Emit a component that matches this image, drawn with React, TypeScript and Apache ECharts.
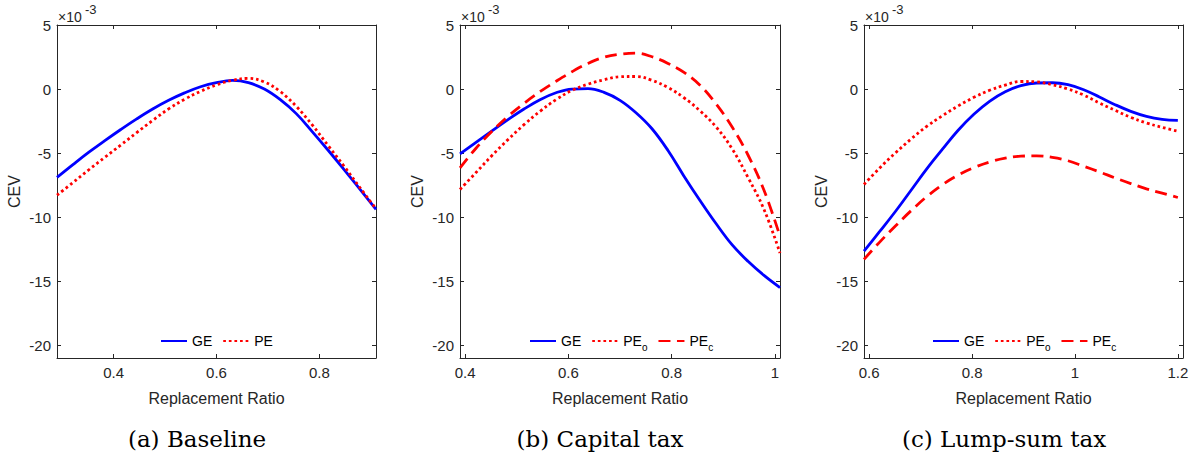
import React, { useEffect, useRef } from 'react';
import * as echarts from 'echarts';

// ---------- data (CEV in units of 1e-3) ----------
const aX = [0.29, 0.321, 0.352, 0.383, 0.414, 0.445, 0.476, 0.507, 0.538, 0.569, 0.6, 0.631, 0.662, 0.693, 0.724, 0.755, 0.786, 0.817, 0.848, 0.879, 0.91];
const aGE = [-6.9, -5.9, -4.93, -4.03, -3.16, -2.33, -1.56, -0.88, -0.3, 0.18, 0.5, 0.67, 0.5, 0.0, -0.83, -1.92, -3.32, -4.78, -6.29, -7.84, -9.4];
const aPE = [-8.29, -7.3, -6.3, -5.33, -4.37, -3.4, -2.45, -1.55, -0.8, -0.18, 0.32, 0.68, 0.83, 0.55, -0.2, -1.35, -2.8, -4.42, -6.03, -7.71, -9.35];

const bX = [0.39, 0.421, 0.452, 0.483, 0.514, 0.545, 0.576, 0.607, 0.638, 0.669, 0.7, 0.731, 0.762, 0.793, 0.824, 0.855, 0.886, 0.917, 0.948, 0.979, 1.01];
const bGE = [-5.06, -4.16, -3.27, -2.39, -1.56, -0.83, -0.29, 0.0, 0.03, -0.26, -0.88, -1.85, -3.1, -4.8, -6.8, -8.7, -10.5, -12.15, -13.45, -14.55, -15.5];
const bPEo = [-7.84, -6.52, -5.19, -3.95, -2.78, -1.74, -0.83, -0.1, 0.38, 0.72, 0.96, 0.98, 0.68, 0.12, -0.68, -1.7, -2.95, -4.65, -6.9, -9.4, -12.8];
const bPEc = [-6.16, -4.62, -3.3, -2.13, -1.12, -0.21, 0.6, 1.35, 2.0, 2.48, 2.72, 2.8, 2.52, 2.0, 1.3, 0.3, -1.15, -2.95, -5.15, -7.9, -11.5];

const cX = [0.59, 0.6205, 0.651, 0.6815, 0.712, 0.7425, 0.773, 0.8035, 0.834, 0.8645, 0.895, 0.9255, 0.956, 0.9865, 1.017, 1.0475, 1.078, 1.1085, 1.139, 1.1695, 1.2];
const cGE = [-12.65, -11.12, -9.56, -7.9, -6.23, -4.7, -3.22, -1.97, -0.96, -0.21, 0.26, 0.47, 0.49, 0.34, -0.05, -0.62, -1.22, -1.74, -2.13, -2.36, -2.44];
const cPEo = [-7.45, -6.16, -4.99, -3.9, -2.91, -2.08, -1.32, -0.65, -0.1, 0.31, 0.59, 0.56, 0.34, 0.0, -0.47, -1.09, -1.66, -2.21, -2.65, -2.99, -3.3];
const cPEc = [-13.3, -11.95, -10.7, -9.5, -8.4, -7.47, -6.72, -6.14, -5.7, -5.4, -5.24, -5.22, -5.33, -5.6, -6.03, -6.47, -6.94, -7.38, -7.79, -8.13, -8.47];

const yTickValues = [-20, -15, -10, -5, 0, 5];
const aTickValues = [0.4, 0.6, 0.8];
const bTickValues = [0.4, 0.6, 0.8, 1];
const cTickValues = [0.6, 0.8, 1, 1.2];

const captions = ['(a) Baseline', '(b) Capital tax', '(c) Lump-sum tax'];

// ---------- styling ----------
const FONT = "'Liberation Sans', Arial, Helvetica, sans-serif";
const AXIS_COLOR = '#262626';
const LW = 2.8;

type Kind = 'solid' | 'dotted' | 'dashed';

function lineStyleFor(kind: Kind) {
  if (kind === 'solid') return { color: '#0000ff', width: LW, type: 'solid' as any };
  if (kind === 'dotted') return { color: '#ff0000', width: LW, type: [2.7, 2.9] as any, cap: 'butt' as any };
  return { color: '#ff0000', width: LW, type: [12, 6.5] as any, cap: 'butt' as any };
}

export default function App() {
  const ref = useRef<HTMLDivElement>(null);

  useEffect(() => {
    if (!ref.current) return;
    const chart = echarts.init(ref.current, null, { renderer: 'svg' });

    const panels = [
      {
        left: 57, width: 319, xMin: 0.29, xMax: 0.91, ticks: aTickValues, x: aX,
        series: [
          { name: 'GE', data: aGE, kind: 'solid' as Kind },
          { name: 'PE', data: aPE, kind: 'dotted' as Kind },
        ],
        legendLeft: 160, captionX: 197,
      },
      {
        left: 460, width: 320, xMin: 0.39, xMax: 1.01, ticks: bTickValues, x: bX,
        series: [
          { name: 'GE', data: bGE, kind: 'solid' as Kind },
          { name: 'PE_o', data: bPEo, kind: 'dotted' as Kind },
          { name: 'PE_c', data: bPEc, kind: 'dashed' as Kind },
        ],
        legendLeft: 529, captionX: 600,
      },
      {
        left: 864, width: 319, xMin: 0.59, xMax: 1.21, ticks: cTickValues, x: cX,
        series: [
          { name: 'GE', data: cGE, kind: 'solid' as Kind },
          { name: 'PE_o ', data: cPEo, kind: 'dotted' as Kind },
          { name: 'PE_c ', data: cPEc, kind: 'dashed' as Kind },
        ],
        legendLeft: 932, captionX: 1004,
      },
    ];

    const TOP = 25;
    const HEIGHT = 333;

    const grid: any[] = [];
    const xAxis: any[] = [];
    const yAxis: any[] = [];
    const series: any[] = [];
    const legend: any[] = [];
    const graphic: any[] = [];

    panels.forEach((p, i) => {
      grid.push({ left: p.left, top: TOP, width: p.width, height: HEIGHT, show: false, containLabel: false, outerBoundsMode: 'none' });

      const axisLine = { show: true, onZero: false, lineStyle: { color: AXIS_COLOR, width: 1 } };
      const xBase = {
        type: 'value', gridIndex: i, min: p.xMin, max: p.xMax,
        axisLine,
        axisTick: { show: true, inside: true, length: 4, customValues: p.ticks, lineStyle: { color: AXIS_COLOR } },
        splitLine: { show: false },
      };
      xAxis.push({
        ...xBase, position: 'bottom',
        axisLabel: { show: true, customValues: p.ticks, color: AXIS_COLOR, fontSize: 15, fontFamily: FONT, margin: 7 },
        name: 'Replacement Ratio', nameLocation: 'middle', nameGap: 32,
        nameTextStyle: { color: AXIS_COLOR, fontSize: 16, fontFamily: FONT },
      });
      xAxis.push({ ...xBase, position: 'top', axisLabel: { show: false } });

      const yBase = {
        type: 'value', gridIndex: i, min: -21, max: 5,
        axisLine,
        axisTick: { show: true, inside: true, length: 4, customValues: yTickValues, lineStyle: { color: AXIS_COLOR } },
        splitLine: { show: false },
      };
      yAxis.push({
        ...yBase, position: 'left',
        axisLabel: { show: true, customValues: yTickValues, color: AXIS_COLOR, fontSize: 15, fontFamily: FONT, margin: 6 },
        name: 'CEV', nameLocation: 'middle', nameGap: 35,
        nameTextStyle: { color: AXIS_COLOR, fontSize: 16, fontFamily: FONT },
      });
      yAxis.push({ ...yBase, position: 'right', axisLabel: { show: false } });

      p.series.forEach((s) => {
        const ls = lineStyleFor(s.kind);
        series.push({
          type: 'line', name: s.name,
          xAxisIndex: 2 * i, yAxisIndex: 2 * i,
          data: p.x.map((xv, k) => [xv, s.data[k]]),
          symbol: 'none', showSymbol: false, smooth: 0.4,
          lineStyle: ls, itemStyle: { color: ls.color },
          silent: true, z: s.kind === 'solid' ? 3 : 4,
        });
      });

      legend.push({
        left: p.legendLeft, top: 334, orient: 'horizontal', padding: 0,
        itemWidth: 26, itemHeight: 14, itemGap: 10,
        selectedMode: false,
        itemStyle: { opacity: 0 },
        data: p.series.map((s) => s.name),
        textStyle: {
          color: '#000', fontSize: 14, fontFamily: FONT,
          rich: { s: { color: '#000', fontSize: 10, fontFamily: FONT, padding: [12, 0, 0, 0] } },
        },
        formatter: (name: string) => {
          const n = name.trim();
          if (n === 'PE_o') return 'PE{s|o}';
          if (n === 'PE_c') return 'PE{s|c}';
          return n;
        },
      });

      graphic.push({
        type: 'text', x: p.left + 1, y: 17,
        style: { text: '×10', fontSize: 14, fontFamily: FONT, fill: AXIS_COLOR, verticalAlign: 'middle', align: 'left' },
      });
      graphic.push({
        type: 'text', x: p.left + 28, y: 9,
        style: { text: '-3', fontSize: 13, fontFamily: FONT, fill: AXIS_COLOR, verticalAlign: 'middle', align: 'left' },
      });
      graphic.push({
        type: 'text', x: p.captionX, y: 439,
        style: { text: captions[i], fontSize: 23, fontFamily: "'DejaVu Serif', serif", fill: '#000', verticalAlign: 'middle', align: 'center' },
      });
    });

    chart.setOption({
      animation: false,
      backgroundColor: '#ffffff',
      grid, xAxis, yAxis, series, legend, graphic,
    });

    return () => chart.dispose();
  }, []);

  return <div ref={ref} style={{ position: 'absolute', left: 0, top: 0, width: 1197, height: 457 }} />;
}
